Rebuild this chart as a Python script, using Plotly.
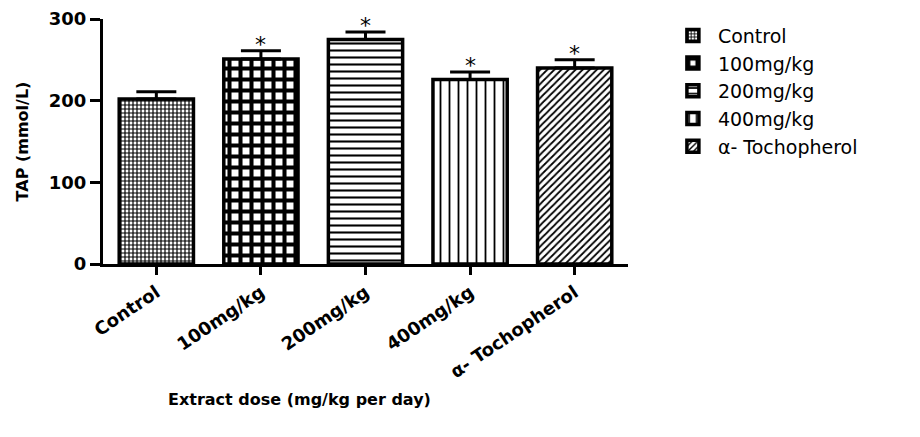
import plotly.graph_objects as go

categories = ["Control", "100mg/kg", "200mg/kg", "400mg/kg", "α- Tochopherol"]
tap_mean = [202, 251, 275, 226, 240]
tap_sem = [9, 10, 9, 9, 10]
significant = [False, True, True, True, True]

patterns = [
    dict(shape="+", size=4, solidity=0.5),
    dict(shape="+", size=11, solidity=0.6),
    dict(shape="-", size=7, solidity=0.3),
    dict(shape="|", size=9, solidity=0.2),
    dict(shape="/", size=5, solidity=0.35),
]

FONT = "DejaVu Sans"

fig = go.Figure()
for cat, val, err, pat in zip(categories, tap_mean, tap_sem, patterns):
    fig.add_trace(go.Bar(
        x=[cat], y=[val], name=cat, width=0.71,
        marker=dict(color="white",
                    line=dict(color="black", width=3.5),
                    pattern=dict(fgcolor="black", bgcolor="white", fillmode="replace", **pat)),
        error_y=dict(type="data", array=[err], arrayminus=[0], symmetric=False,
                     color="black", thickness=3, width=20),
    ))

for cat, val, err, sig in zip(categories, tap_mean, tap_sem, significant):
    if sig:
        fig.add_annotation(x=cat, y=val + err, text="*", showarrow=False,
                           yanchor="bottom", yshift=-8,
                           font=dict(family=FONT, size=22, color="black"))

fig.add_annotation(x=0.375, y=-0.555, xref="paper", yref="paper",
                   text="Extract dose (mg/kg per day)", showarrow=False,
                   xanchor="center", yanchor="middle",
                   font=dict(family=FONT, size=16, color="black", weight="bold"))

fig.update_layout(
    width=920, height=437,
    margin=dict(l=95, r=300, t=11, b=181, autoexpand=False),
    paper_bgcolor="white", plot_bgcolor="white",
    barmode="overlay",
    showlegend=True,
    legend=dict(x=1.076, xanchor="left", y=1.01, yanchor="top",
                font=dict(family=FONT, size=19, color="black"),
                bgcolor="rgba(0,0,0,0)", tracegroupgap=0, itemwidth=40),
    xaxis=dict(type="category", categoryorder="array", categoryarray=categories,
               range=[-0.51, 4.51], showline=True, linecolor="black", linewidth=3,
               ticks="outside", ticklen=8, tickwidth=3, tickcolor="black",
               tickangle=-34, showgrid=False, zeroline=False, automargin=False,
               tickfont=dict(family=FONT, size=18, color="black", weight="bold")),
    yaxis=dict(range=[0, 300], tick0=0, dtick=100, showline=True, linecolor="black",
               linewidth=3, ticks="outside", ticklen=10, tickwidth=3, tickcolor="black",
               showgrid=False, zeroline=False, automargin=False,
               tickfont=dict(family=FONT, size=18, color="black", weight="bold"),
               title=dict(text="TAP (mmol/L)", standoff=17,
                          font=dict(family=FONT, size=16, color="black", weight="bold"))),
)

fig.write_html("out.html")
